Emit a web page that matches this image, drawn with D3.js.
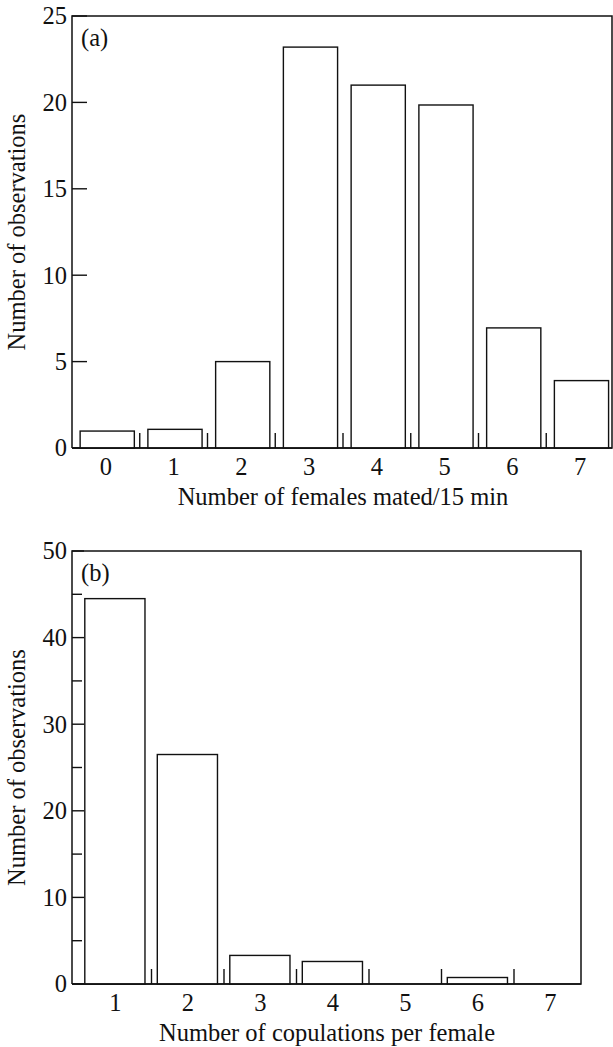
<!DOCTYPE html>
<html><head><meta charset="utf-8">
<script src="https://cdn.jsdelivr.net/npm/d3@7"></script>
<style>body{margin:0;background:#fff}svg{display:block}text{font-family:"Liberation Serif",serif;fill:#111}</style>
</head><body><svg id="c" width="613" height="1047"></svg>
<script>
// Panel (a)
const catsA = ["0","1","2","3","4","5","6","7"];
const valsA = [0.98, 1.08, 5.0, 23.2, 21.0, 19.85, 6.95, 3.9];
const yTicksA = [0, 5, 10, 15, 20, 25];
// Panel (b)
const catsB = ["1","2","3","4","5","6","7"];
const valsB = [44.5, 26.5, 3.3, 2.6, 0, 0.75, 0];
const yTicksB = [0, 10, 20, 30, 40, 50];
const yMinorB = [5, 15, 25, 35, 45];

const svg = d3.select("#c");
const FS = 24.5;

function panel(o){
  const g = svg.append("g");
  const x = d3.scaleBand().domain(o.cats).range([o.bx0, o.bx1]).paddingInner(0).paddingOuter(0);
  const y = d3.scaleLinear().domain([0, o.ymax]).range([o.yb, o.yt]);
  // frame
  g.append("path").attr("d", `M${o.x0},${o.yb}V${o.yt}H${o.x1}V${o.yb}H${o.x0}`)
    .attr("stroke","#111").attr("stroke-width",1.5).attr("fill","none");
  // y ticks
  g.selectAll(".yt").data(o.yticks).join("line")
    .attr("x1", o.x0).attr("x2", o.x0 + o.tl).attr("y1", d=>y(d)).attr("y2", d=>y(d))
    .attr("stroke","#111").attr("stroke-width",1.4);
  g.selectAll(".ym").data(o.yminor||[]).join("line")
    .attr("x1", o.x0).attr("x2", o.x0 + o.ml).attr("y1", d=>y(d)).attr("y2", d=>y(d))
    .attr("stroke","#111").attr("stroke-width",1.4);
  g.selectAll(".yl").data(o.yticks).join("text")
    .attr("x", o.x0 - 5).attr("y", d=>y(d)).attr("dy","0.34em")
    .attr("text-anchor","end").attr("font-size",FS).text(d=>d);
  // bars
  const bw = x.bandwidth();
  g.selectAll(".bar").data(o.vals.map((v,i)=>({c:o.cats[i],v})).filter(d=>d.v>0)).join("rect")
    .attr("x", d=>x(d.c) + bw*o.off).attr("width", bw*o.w)
    .attr("y", d=>y(d.v)).attr("height", d=>y(0)-y(d.v))
    .attr("fill","#fff").attr("stroke","#111").attr("stroke-width",1.4);
  // separator ticks between categories
  g.selectAll(".sep").data(o.cats.slice(1)).join("line")
    .attr("x1", d=>x(d)).attr("x2", d=>x(d)).attr("y1", o.yb).attr("y2", o.yb - 15)
    .attr("stroke","#111").attr("stroke-width",1.4);
  // baseline on top
  g.append("line").attr("x1",o.x0).attr("x2",o.x1).attr("y1",o.yb).attr("y2",o.yb)
    .attr("stroke","#111").attr("stroke-width",1.5);
  // x labels
  g.selectAll(".xl").data(o.cats).join("text")
    .attr("x", d=>x(d)+bw/2).attr("y", o.yb + 19).attr("dy","0.34em")
    .attr("text-anchor","middle").attr("font-size",FS).text(d=>d);
  g.append("text").attr("x", o.tx).attr("y", o.yb + 49).attr("dy","0.34em")
    .attr("text-anchor","middle").attr("font-size",FS).text(o.xtitle);
  g.append("text").attr("transform",`translate(17,${(o.yt+o.yb)/2}) rotate(-90)`)
    .attr("dy","0.34em").attr("text-anchor","middle").attr("font-size",FS).text("Number of observations");
  g.append("text").attr("x", o.x0 + 9).attr("y", o.yt + 22).attr("dy","0.34em")
    .attr("font-size",FS).text(o.tag);
}

panel({cats:catsA, vals:valsA, ymax:25, yticks:yTicksA, x0:72, x1:612, yt:16, yb:448,
  bx0:72, bx1:614, off:0.12, w:0.8, tl:15, xtitle:"Number of females mated/15 min", tx:343, tag:"(a)"});
panel({cats:catsB, vals:valsB, ymax:50, yticks:yTicksB, yminor:yMinorB, x0:72, x1:581, yt:551, yb:984,
  bx0:79, bx1:586.5, off:0.08, w:0.83, tl:12, ml:10, xtitle:"Number of copulations per female", tx:327, tag:"(b)"});
</script></body></html>
